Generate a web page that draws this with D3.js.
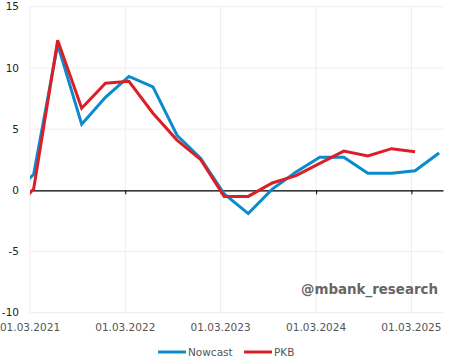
<!DOCTYPE html>
<html><head><meta charset="utf-8">
<script src="https://cdn.jsdelivr.net/npm/d3@7"></script>
<style>body{margin:0;background:#fff}svg{display:block}</style>
</head><body>
<svg id="c" width="450" height="358"></svg>
<script>
const dates = ["2020-12-15","2021-03-15","2021-06-15","2021-09-15","2021-12-15","2022-03-15","2022-06-15","2022-09-15","2022-12-15","2023-03-15","2023-06-15","2023-09-15","2023-12-15","2024-03-15","2024-06-15","2024-09-15","2024-12-15","2025-03-15","2025-06-15"];
const nowcast = [-0.6,1.3,11.9,5.4,7.6,9.3,8.45,4.5,2.6,-0.3,-1.9,0.1,1.5,2.7,2.7,1.4,1.4,1.6,3.05];
const pkb = [-1.9,0.1,12.25,6.7,8.75,8.9,6.3,4.1,2.5,-0.5,-0.5,0.6,1.2,2.2,3.2,2.8,3.4,3.15,null];
const yTicks = [-10,-5,0,5,10,15];
const xTickDates = ["2021-03-01","2022-03-01","2023-03-01","2024-03-01","2025-03-01"];
const xTickLabels = ["01.03.2021","01.03.2022","01.03.2023","01.03.2024","01.03.2025"];
const seriesNames = ["Nowcast","PKB"];
const colors = ["#0a8bcb","#dc1f26"];

const parse = d3.timeParse("%Y-%m-%d");
const svg = d3.select("#c");
const L = 30, R = 443, T = 6.7, B = 312.7;
const x = d3.scaleTime().domain([parse("2021-03-01"), parse("2025-06-30")]).range([L, R]);
const y = d3.scaleLinear().domain([-10, 15]).range([B, T]);
const font = "DejaVu Sans, Verdana, sans-serif";

// grid
svg.append("g").selectAll("line.h").data(yTicks).join("line")
  .attr("x1", L).attr("x2", R).attr("y1", d => y(d)).attr("y2", d => y(d))
  .attr("stroke", "#ededed").attr("stroke-width", 1);
svg.append("g").selectAll("line.v").data(xTickDates).join("line")
  .attr("x1", d => x(parse(d))).attr("x2", d => x(parse(d)))
  .attr("y1", T).attr("y2", B)
  .attr("stroke", "#ededed").attr("stroke-width", 1);

// y labels
svg.append("g").selectAll("text").data(yTicks).join("text")
  .attr("x", 19).attr("y", d => y(d)).attr("dy", "0.36em")
  .attr("text-anchor", "end").attr("font-family", font).attr("font-size", 10.5)
  .attr("fill", "#222").text(d => d);

// zero axis
const xAxis = d3.axisBottom(x).tickValues(xTickDates.map(parse)).tickFormat("").tickSize(4).tickSizeOuter(0);
const ax = svg.append("g").attr("transform", `translate(0,${y(0)})`).call(xAxis);
ax.select(".domain").attr("stroke", "#000").attr("stroke-width", 1.3);
ax.selectAll(".tick line").attr("stroke", "#000");

// x labels
svg.append("g").selectAll("text").data(xTickDates).join("text")
  .attr("x", d => x(parse(d))).attr("y", 327).attr("dy", "0.36em")
  .attr("text-anchor", "middle").attr("font-family", font).attr("font-size", 10.5)
  .attr("fill", "#555").text((d, i) => xTickLabels[i]);

// clip
svg.append("clipPath").attr("id", "clip").append("rect")
  .attr("x", L).attr("y", 0).attr("width", R - L + 2).attr("height", 358);

const line = d3.line().defined(d => d[1] != null)
  .x(d => x(parse(d[0]))).y(d => y(d[1]));
const series = [nowcast, pkb];
series.forEach((vals, i) => {
  svg.append("path").attr("clip-path", "url(#clip)")
    .datum(dates.map((d, j) => [d, vals[j]]))
    .attr("d", line).attr("fill", "none")
    .attr("stroke", colors[i]).attr("stroke-width", 3)
    .attr("stroke-linejoin", "miter").attr("stroke-linecap", "butt");
});

// watermark
svg.append("text").attr("x", 438).attr("y", 289).attr("dy", "0.36em")
  .attr("text-anchor", "end").attr("font-family", font).attr("font-weight", "bold")
  .attr("font-size", 13.4).attr("fill", "#666").text("@mbank_research");

// legend
const legX = [158, 244];
seriesNames.forEach((n, i) => {
  const g = svg.append("g").attr("transform", `translate(${legX[i]},352)`);
  g.append("line").attr("x1", 0).attr("x2", 28).attr("y1", 0).attr("y2", 0)
    .attr("stroke", colors[i]).attr("stroke-width", 3);
  g.append("text").attr("x", 30).attr("y", 0).attr("dy", "0.36em")
    .attr("font-family", font).attr("font-size", 10.5).attr("fill", "#555").text(n);
});
</script>
</body></html>
